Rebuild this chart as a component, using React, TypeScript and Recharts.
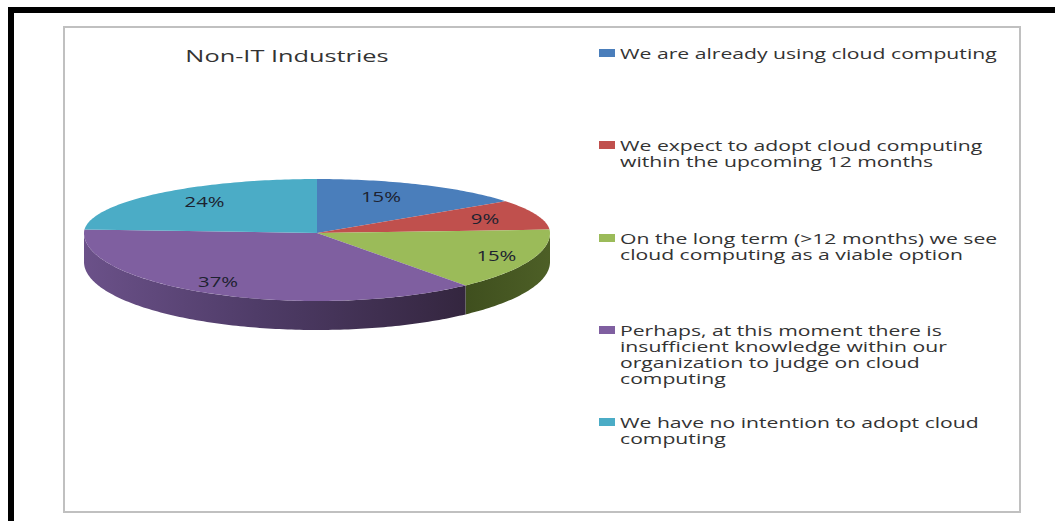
import { Legend, Pie, PieChart } from 'recharts';

const categories = [
  'We are already using cloud computing',
  'We expect to adopt cloud computing within the upcoming 12 months',
  'On the long term (>12 months) we see cloud computing as a viable option',
  'Perhaps, at this moment there is insufficient knowledge within our organization to judge on cloud computing',
  'We have no intention to adopt cloud computing',
];
const shares = [15, 9, 15, 37, 24];
const topColors = ['#4a7ebb', '#c0504d', '#9bbb59', '#7f5fa0', '#4bacc6'];

// legend text broken the way it wraps in the box
const legendLines = [
  ['We are already using cloud computing'],
  ['We expect to adopt cloud computing', 'within the upcoming 12 months'],
  ['On the long term (>12 months) we see', 'cloud computing as a viable option'],
  ['Perhaps, at this moment there is', 'insufficient knowledge within our', 'organization to judge on cloud', 'computing'],
  ['We have no intention to adopt cloud', 'computing'],
];
const legendTops = [0, 92, 185, 277, 369];

// per-slice label shift from the default spot, best-fit style
const labelShifts = [
  [-8, -4],
  [19, -2],
  [34, 4],
  [-27, 7],
  [-4, -5],
];

const WIDTH = 1055;
const HEIGHT = 521;
const BACK_TILT = 54 / 233; // far half of the disc looks flatter
const FRONT_TILT = 68 / 233;
const DEPTH = 29;
const RAD = Math.PI / 180;
const FONT = '"Open Sans", "DejaVu Sans", sans-serif';

const data = categories.map((name, i) => ({ name, value: shares[i], fill: topColors[i] }));

// point on the perspective rim for an angle in Recharts' degrees
function rim(cx: number, cy: number, r: number, deg: number) {
  const s = Math.sin(deg * RAD);
  return [cx + r * Math.cos(deg * RAD), cy - r * (s > 0 ? BACK_TILT : FRONT_TILT) * s];
}

// rim points from one angle to the other, a degree apart
function rimPoints(cx: number, cy: number, r: number, from: number, to: number) {
  const pts: number[][] = [];
  const steps = Math.max(1, Math.ceil(Math.abs(to - from)));
  for (let i = 0; i <= steps; i++) {
    pts.push(rim(cx, cy, r, from + ((to - from) * i) / steps));
  }
  return pts;
}

// top face of a slice plus the outer wall where it faces the viewer
function Slice3D(props: any) {
  const { cx, cy, outerRadius: r, startAngle, endAngle, fill, index } = props;
  const edge = rimPoints(cx, cy, r, startAngle, endAngle);
  const top = `M${cx},${cy}L${edge.map((p) => p.join(',')).join('L')}Z`;

  // the front half of the disc runs from 0 to -180 degrees
  const wallFrom = Math.min(startAngle, 0);
  const wallTo = Math.max(endAngle, -180);
  let wall = null;
  if (wallFrom > wallTo) {
    const upper = rimPoints(cx, cy, r, wallFrom, wallTo);
    const lower = [...upper].reverse().map(([x, y]) => [x, y + DEPTH]);
    const d = `M${[...upper, ...lower].map((p) => p.join(',')).join('L')}Z`;
    wall = <path d={d} fill={`url(#wall-${index})`} />;
  }
  return (
    <g>
      {wall}
      <path d={top} fill={fill} />
    </g>
  );
}

function SliceLabel(props: any) {
  const { cx, cy, outerRadius: r, midAngle, value, index } = props;
  const [px, py] = rim(cx, cy, r * 0.68, midAngle);
  const x = px + labelShifts[index][0];
  const y = py + labelShifts[index][1];
  return (
    <text
      x={x}
      y={y}
      textAnchor="middle"
      dominantBaseline="central"
      fontFamily={FONT}
      fontSize={14}
      fontWeight={500}
      fill="#1d2230"
      transform={`translate(${x} ${y}) scale(1.45 1) translate(${-x} ${-y})`}
    >
      {`${value}%`}
    </text>
  );
}

function SwatchLegend({ payload }: any) {
  return (
    <div style={{ position: 'relative', width: 420, height: 440 }}>
      {(payload ?? []).map((entry: any, i: number) => (
        <div key={entry.value} style={{ position: 'absolute', left: 0, top: legendTops[i] }}>
          <span
            style={{ position: 'absolute', left: -1, top: 4, width: 16, height: 8, background: topColors[i] }}
          />
          {legendLines[i].map((line) => (
            <div
              key={line}
              style={{
                marginLeft: 20,
                height: 16,
                lineHeight: '16px',
                fontFamily: FONT,
                fontSize: 15,
                fontWeight: 500,
                color: '#333',
                whiteSpace: 'nowrap',
                transform: 'scaleX(1.41)',
                transformOrigin: 'left center',
              }}
            >
              {line}
            </div>
          ))}
        </div>
      ))}
    </div>
  );
}

export default function App() {
  return (
    <div style={{ position: 'absolute', left: 0, top: 0, width: WIDTH, height: HEIGHT, background: '#fff' }}>
      {/* black page frame and grey chart box */}
      <div style={{ position: 'absolute', left: 8, top: 7, width: WIDTH - 8, height: 6, background: '#000' }} />
      <div style={{ position: 'absolute', left: 8, top: 7, width: 6, height: HEIGHT - 7, background: '#000' }} />
      <div
        style={{
          position: 'absolute',
          left: 63,
          top: 26,
          width: 958,
          height: 487,
          boxSizing: 'border-box',
          border: '2px solid #c0c0c0',
        }}
      />
      <PieChart
        width={WIDTH}
        height={HEIGHT}
        margin={{ top: 0, right: 0, bottom: 0, left: 0 }}
        style={{ position: 'absolute', left: 0, top: 0 }}
      >
        <defs>
          <linearGradient id="wall-2" x1="0" y1="0" x2="1" y2="0">
            <stop offset="0" stopColor="#3f4f1e" />
            <stop offset="1" stopColor="#4d5f26" />
          </linearGradient>
          <linearGradient id="wall-3" x1="0" y1="0" x2="1" y2="0">
            <stop offset="0" stopColor="#6b5189" />
            <stop offset="0.45" stopColor="#4f3c68" />
            <stop offset="1" stopColor="#34263f" />
          </linearGradient>
        </defs>
        <text
          x={287}
          y={55}
          textAnchor="middle"
          dominantBaseline="central"
          fontFamily={FONT}
          fontSize={17}
          fontWeight={500}
          fill="#333"
          transform="translate(287 55) scale(1.49 1) translate(-287 -55)"
        >
          Non-IT Industries
        </text>
        <Pie
          data={data}
          dataKey="value"
          nameKey="name"
          cx={317}
          cy={233}
          outerRadius={233}
          startAngle={90}
          endAngle={-270}
          stroke="none"
          isAnimationActive={false}
          shape={Slice3D}
          label={SliceLabel}
          labelLine={false}
        />
        {/* a middle/centre legend reserves no plot space; wrapperStyle places it */}
        <Legend
          content={SwatchLegend}
          layout="vertical"
          verticalAlign="middle"
          align="center"
          wrapperStyle={{ left: 600, top: 45, width: 420 }}
        />
      </PieChart>
    </div>
  );
}
